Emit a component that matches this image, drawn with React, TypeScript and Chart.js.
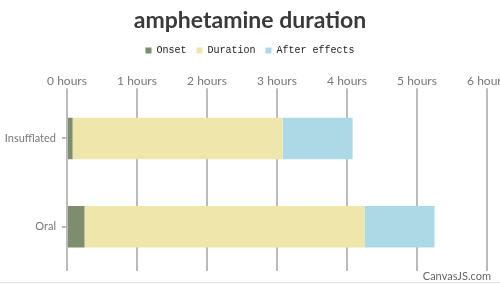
import React, { useEffect, useRef } from "react";
import { Chart, registerables } from "chart.js";

Chart.register(...registerables);

const categories = ["Insufflated", "Oral"];
const onset = [0.08, 0.25];
const duration = [3, 4];
const afterEffects = [1, 1];
const xTicks = [0, 1, 2, 3, 4, 5, 6];
const seriesNames = ["Onset", "Duration", "After effects"];
const seriesColors = ["#7F8D6F", "#EEE6AA", "#ADD8E6"];
const titleText = "amphetamine duration";
const creditText = "CanvasJS.com";

const creditPlugin = {
  id: "credit",
  afterDraw(chart: any) {
    const ctx = chart.ctx;
    ctx.save();
    ctx.font = "11px Lato";
    ctx.fillStyle = "#666";
    ctx.textAlign = "right";
    ctx.textBaseline = "alphabetic";
    ctx.fillText(creditText, 491, 280);
    ctx.strokeStyle = "#e2e2e2";
    ctx.lineWidth = 1;
    ctx.beginPath();
    ctx.moveTo(0, 282.5);
    ctx.lineTo(500, 282.5);
    ctx.stroke();
    ctx.restore();
  },
};

export default function App() {
  const ref = useRef<HTMLCanvasElement>(null);
  useEffect(() => {
    document.body.style.margin = "0";
    const values = [onset, duration, afterEffects];
    const chart = new Chart(ref.current!, {
      type: "bar",
      data: {
        labels: categories,
        datasets: seriesNames.map((name, i) => ({
          label: name,
          data: values[i],
          backgroundColor: seriesColors[i],
          borderWidth: 0,
          categoryPercentage: 1,
          barPercentage: 0.47,
        })),
      },
      options: {
        indexAxis: "y",
        responsive: false,
        animation: false,
        layout: { padding: { left: 0, right: 0, top: 0, bottom: 13 } },
        plugins: {
          title: {
            display: true,
            text: titleText,
            color: "#3a3a3a",
            font: { family: "Lato", size: 23, weight: "bold", lineHeight: 1.2 },
            padding: { top: 7, bottom: 1 },
          },
          legend: {
            display: true,
            labels: {
              boxWidth: 6,
              boxHeight: 6,
              padding: 10,
              color: "#222",
              font: { family: "Liberation Mono", size: 10 },
            },
          },
          tooltip: { enabled: false },
        },
        scales: {
          x: {
            type: "linear",
            position: "top",
            stacked: true,
            min: xTicks[0],
            max: xTicks[xTicks.length - 1],
            afterBuildTicks: (scale: any) => {
              scale.ticks = xTicks.map((v) => ({ value: v }));
            },
            afterFit: (scale: any) => {
              scale.height = 28.6;
              scale.paddingLeft = 0;
              scale.paddingRight = 13;
            },
            ticks: {
              callback: (v: any) => v + " hours",
              color: "#777",
              padding: 0,
              maxRotation: 0,
              font: { family: "Lato", size: 12 },
            },
            grid: { color: "#bbb", lineWidth: 2, tickLength: 6, drawTicks: true },
            border: { display: false },
          },
          y: {
            stacked: true,
            afterFit: (scale: any) => {
              scale.width = 67;
            },
            ticks: {
              color: "#777",
              padding: 6,
              font: { family: "Lato", size: 11 },
            },
            grid: {
              offset: false,
              drawOnChartArea: false,
              drawTicks: true,
              tickLength: 5,
              color: "#bbb",
              lineWidth: 2,
            },
            border: { display: false },
          },
        },
      } as any,
      plugins: [creditPlugin],
    });
    return () => chart.destroy();
  }, []);
  return (
    <div style={{ width: 500, height: 284 }}>
      <canvas ref={ref} width={500} height={284} />
    </div>
  );
}
